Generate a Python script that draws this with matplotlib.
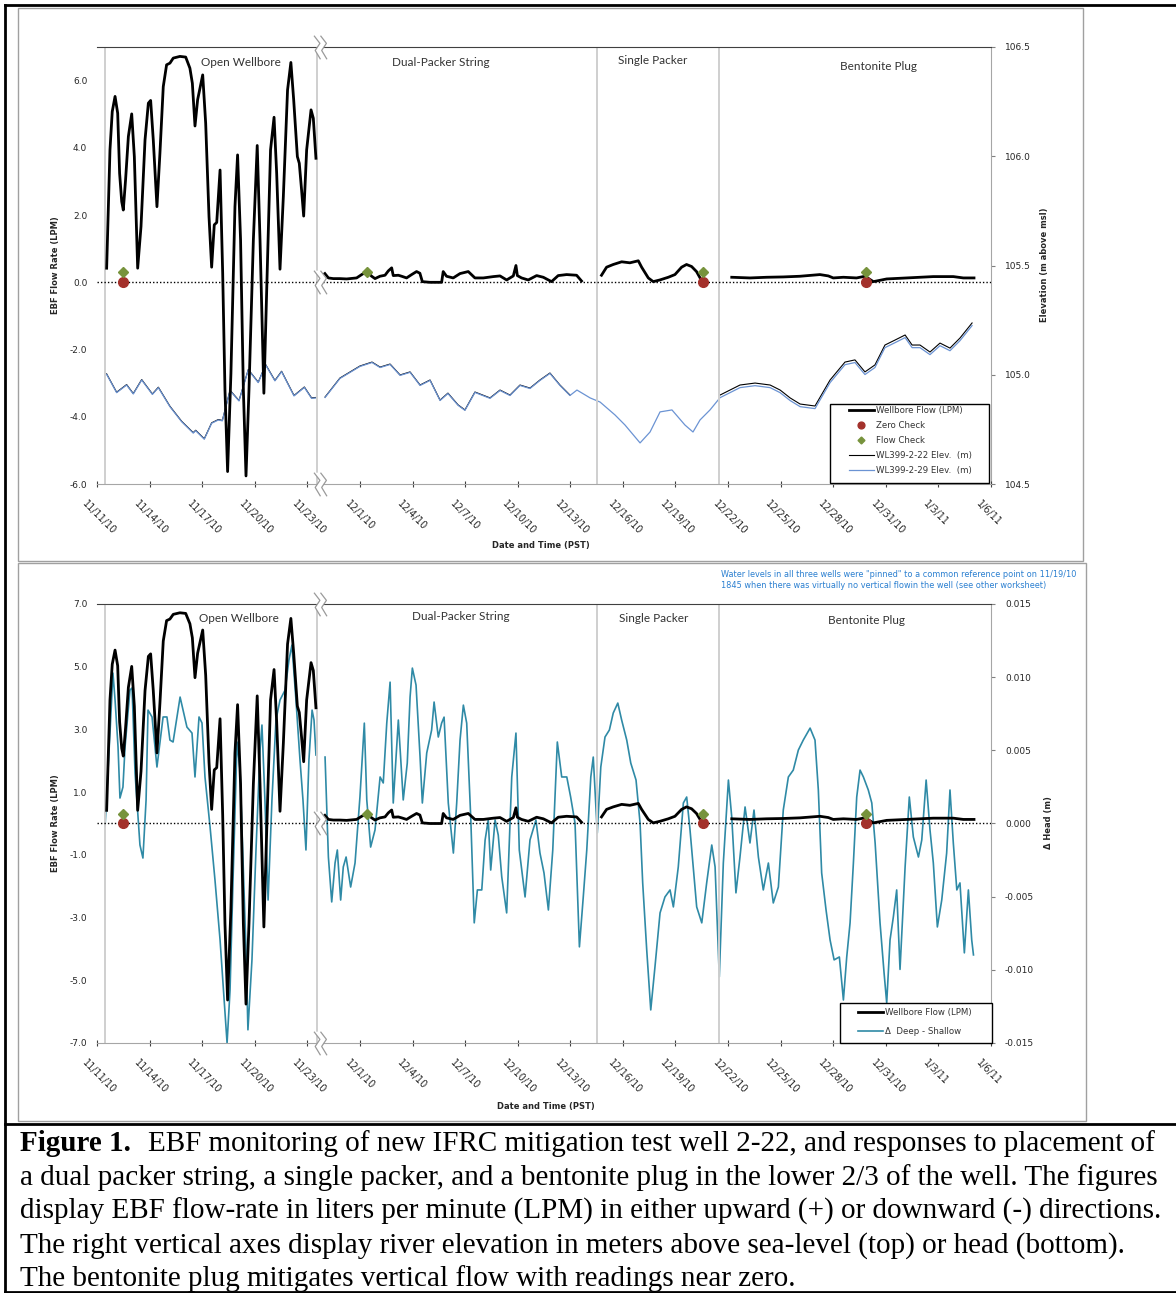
import numpy as np
import matplotlib
matplotlib.use("Agg")
import matplotlib.pyplot as plt
from matplotlib.patches import Rectangle
from matplotlib.path import Path
from matplotlib.ticker import FixedLocator, FormatStrFormatter
from matplotlib.transforms import ScaledTranslation

# ---------------- data (time = day number counted from Oct 31, 2010) ----------------
tick_days = [11, 14, 17, 20, 23, 31, 34, 37, 40, 43, 46, 49, 52, 55, 58, 61, 64, 67]
tick_labels = ["11/11/10", "11/14/10", "11/17/10", "11/20/10", "11/23/10", "12/1/10",
               "12/4/10", "12/7/10", "12/10/10", "12/13/10", "12/16/10", "12/19/10",
               "12/22/10", "12/25/10", "12/28/10", "12/31/10", "1/3/11", "1/6/11"]

phase_days = [11.46, 23.55, 44.52, 51.48]
phase_names = ["Open Wellbore", "Dual-Packer String", "Single Packer", "Bentonite Plug"]
break_day = 23.72

# wellbore flow (LPM), segments separated by nan
flow_days = [11.55, 11.74, 11.87, 12.03, 12.18, 12.29, 12.41, 12.50, 12.63, 12.79,
             12.98, 13.13, 13.32, 13.51, 13.74, 13.93, 14.06, 14.21, 14.42, 14.59,
             14.78, 14.97, 15.16, 15.35, 15.73, 16.06, 16.30, 16.44, 16.59, 16.74,
             17.03, 17.20, 17.39, 17.54, 17.69, 17.83, 18.02, 18.17, 18.30, 18.45,
             18.64, 18.87, 19.02, 19.19, 19.35, 19.50, 19.67, 19.92, 20.14, 20.30,
             20.52, 20.71, 20.90, 21.10, 21.25, 21.44, 21.63, 21.87, 22.06, 22.22,
             22.43, 22.54, 22.67, 22.79, 22.96, 23.21, 23.34, 23.49, np.nan,
             29.00, 29.20, 29.48, 29.86, 30.24, 30.81, 31.10, 31.38, 31.67, 31.86,
             32.14, 32.43, 32.62, 32.81, 32.90, 33.19, 33.38, 33.66, 33.95, 34.23,
             34.42, 34.56, 34.99, 35.66, 35.75, 35.94, 36.32, 36.71, 37.18, 37.56,
             38.04, 38.61, 38.99, 39.37, 39.75, 39.90, 39.98, 40.22, 40.60, 41.08,
             41.46, 41.93, 42.31, 42.79, 43.36, 43.64, np.nan,
             44.78, 45.07, 45.45, 45.93, 46.40, 46.88, 47.07, 47.45, 47.73, 48.11,
             48.59, 48.97, 49.35, 49.63, 49.92, 50.20, 50.49, np.nan,
             52.21, 53.25, 54.20, 55.15, 56.10, 57.24, 57.72, 58.00, 58.58, 59.33,
             59.81, 60.29, 61.05, 62.19, 63.71, 64.85, 65.42, 66.03]
flow_lpm = [0.42, 3.94, 5.08, 5.53, 5.03, 3.24, 2.40, 2.15, 3.05, 4.34,
            5.01, 3.74, 0.42, 1.66, 4.24, 5.33, 5.41, 4.24, 2.25, 3.84,
            5.82, 6.47, 6.52, 6.67, 6.72, 6.70, 6.37, 5.92, 4.65, 5.43,
            6.17, 4.73, 1.95, 0.45, 1.71, 1.78, 3.34, 0.27, -3.20, -5.63,
            -2.71, 2.25, 3.79, 1.26, -3.20, -5.76, -3.20, 1.26, 4.07, 1.26,
            -3.30, 0.27, 3.94, 4.91, 3.24, 0.39, 2.55, 5.72, 6.54, 5.43,
            3.74, 3.54, 2.75, 1.97, 3.94, 5.13, 4.88, 3.69, np.nan,
            0.26, 0.13, 0.11, 0.11, 0.10, 0.13, 0.23, 0.32, 0.18, 0.11,
            0.18, 0.21, 0.34, 0.43, 0.20, 0.21, 0.18, 0.13, 0.23, 0.32,
            0.27, 0.02, 0.00, 0.00, 0.32, 0.18, 0.13, 0.26, 0.32, 0.13,
            0.13, 0.17, 0.19, 0.07, 0.19, 0.50, 0.20, 0.13, 0.07, 0.20,
            0.15, 0.02, 0.20, 0.23, 0.21, 0.04, np.nan,
            0.21, 0.45, 0.53, 0.61, 0.58, 0.64, 0.45, 0.13, 0.02, 0.07,
            0.15, 0.23, 0.45, 0.53, 0.47, 0.32, 0.05, np.nan,
            0.15, 0.13, 0.15, 0.16, 0.18, 0.23, 0.19, 0.13, 0.15, 0.13,
            0.18, 0.02, 0.10, 0.13, 0.17, 0.17, 0.13, 0.13]

zero_check_days = [12.48, 50.57, 59.87]
zero_check_lpm = [0.0, 0.0, 0.0]
flow_check_days = [12.48, 31.40, 50.57, 59.87]
flow_check_lpm = [0.3, 0.3, 0.3, 0.3]

# river elevation (m above msl)
elev_days = [11.55, 12.12, 12.69, 13.07, 13.55, 14.16, 14.50, 15.16, 15.83, 16.49,
             16.63, 17.12, 17.54, 17.92, 18.15, 18.59, 19.10, 19.63, 20.20, 20.62,
             21.15, 21.53, 22.24, 22.83, 23.24, 23.49, np.nan,
             29.01, 29.86, 31.00, 31.69, 32.15, 32.72, 33.29, 33.86, 34.43, 35.00,
             35.57, 36.02, 36.60, 36.99, 37.56, 38.42, 38.99, 39.56, 40.13, 40.70,
             41.27, 41.84, 42.41, 42.98, 43.38, 44.13, 44.70, 45.55, 46.12, 46.98,
             47.55, 48.12, 48.80, 49.54, 50.00, 50.40, 50.97, 51.54, 52.11, 52.68,
             53.54, 54.40, 54.97, 55.54, 56.11, 56.96, 57.82, 58.67, 59.24, 59.81,
             60.38, 60.95, 61.53, 62.10, 62.50, 62.95, 63.52, 64.09, 64.66, 65.23,
             65.92]
elev_2_22 = [105.004, 104.920, 104.955, 104.914, 104.978, 104.912, 104.943, 104.856, 104.787, 104.735,
             104.746, 104.707, 104.780, 104.795, 104.791, 104.929, 104.882, 105.024, 104.966, 105.047,
             104.974, 105.016, 104.905, 104.944, 104.894, 104.896, np.nan,
             104.898, 104.985, 105.040, 105.058, 105.035, 105.049, 104.999, 105.013, 104.953, 104.976,
             104.884, 104.916, 104.862, 104.839, 104.921, 104.894, 104.930, 104.907, 104.953, 104.939,
             104.976, 105.008, 104.953, 104.907, np.nan, np.nan, np.nan, np.nan, np.nan, np.nan,
             np.nan, np.nan, np.nan, np.nan, np.nan, np.nan, np.nan, 104.907, 104.930, 104.953,
             104.962, 104.953, 104.930, 104.894, 104.866, 104.857, 104.976, 105.058, 105.068, 105.013,
             105.045, 105.136, 105.159, 105.182, 105.136, 105.136, 105.104, 105.145, 105.122, 105.168,
             105.237]
elev_2_29 = [105.002, 104.918, 104.953, 104.912, 104.976, 104.910, 104.941, 104.854, 104.785, 104.733,
             104.744, 104.705, 104.778, 104.793, 104.789, 104.927, 104.880, 105.022, 104.964, 105.045,
             104.972, 105.014, 104.903, 104.942, 104.892, 104.894, np.nan,
             104.896, 104.983, 105.038, 105.056, 105.033, 105.047, 104.997, 105.011, 104.951, 104.974,
             104.882, 104.914, 104.860, 104.837, 104.919, 104.892, 104.928, 104.905, 104.951, 104.937,
             104.974, 105.006, 104.951, 104.905, 104.930, 104.894, 104.875, 104.816, 104.770, 104.688,
             104.738, 104.830, 104.839, 104.770, 104.738, 104.793, 104.839, 104.895, 104.918, 104.941,
             104.950, 104.941, 104.918, 104.882, 104.854, 104.845, 104.964, 105.046, 105.056, 105.001,
             105.033, 105.124, 105.147, 105.170, 105.124, 105.124, 105.092, 105.133, 105.110, 105.156,
             105.225]

# head difference deep - shallow (m)
dh_days = [11.46, 11.74, 11.91, 12.03, 12.20, 12.31, 12.48, 12.60, 12.88, 13.00,
           13.17, 13.45, 13.62, 13.80, 13.91, 14.14, 14.42, 14.77, 14.99, 15.16,
           15.34, 15.74, 16.13, 16.42, 16.59, 16.82, 16.99, 17.16, 17.45, 17.73,
           18.02, 18.25, 18.42, 18.59, 18.76, 18.99, 19.16, 19.33, 19.50, 19.61,
           19.84, 20.07, 20.30, 20.41, 20.58, 20.76, 20.98, 21.21, 21.44, 21.73,
           21.95, 22.12, 22.35, 22.58, 22.75, 22.92, 23.09, 23.27, 23.38, 23.49, np.nan,
           29.01, 29.20, 29.39, 29.58, 29.71, 29.90, 30.05, 30.21, 30.47, 30.72,
           31.00, 31.25, 31.39, 31.61, 31.86, 32.15, 32.33, 32.53, 32.72, 32.90,
           33.19, 33.47, 33.70, 33.86, 33.99, 34.20, 34.43, 34.56, 34.81, 35.09,
           35.23, 35.47, 35.66, 35.80, 36.04, 36.33, 36.52, 36.71, 36.90, 37.09,
           37.32, 37.52, 37.70, 37.95, 38.14, 38.32, 38.46, 38.71, 38.89, 39.09,
           39.37, 39.66, 39.90, 40.09, 40.42, 40.70, 41.04, 41.27, 41.50, 41.75,
           42.00, 42.26, 42.51, 42.80, 43.02, 43.27, 43.52, 43.74, 43.94, 44.17,
           44.31, 44.54, 44.74, 44.98, 45.23, 45.45, 45.71, 45.93, 46.22, 46.45,
           46.75, 46.98, 47.13, 47.36, 47.59, 47.83, 48.12, 48.40, 48.69, 48.88,
           49.16, 49.45, 49.64, 49.83, 50.21, 50.50, 50.78, 51.07, 51.26, 51.50,
           51.73, 52.02, 52.21, 52.45, 52.68, 52.97, 53.25, 53.48, 53.73, 54.01,
           54.30, 54.58, 54.87, 55.15, 55.44, 55.72, 56.01, 56.29, 56.68, 56.96,
           57.15, 57.34, 57.59, 57.82, 58.05, 58.35, 58.58, 58.77, 58.96, 59.15,
           59.34, 59.53, 59.72, 60.00, 60.20, 60.39, 60.67, 60.90, 61.05, 61.24,
           61.43, 61.62, 61.81, 62.10, 62.34, 62.57, 62.86, 63.05, 63.30, 63.52,
           63.71, 63.94, 64.19, 64.47, 64.66, 64.85, 65.05, 65.23, 65.48, 65.71,
           65.90, 66.00]
dh_m = [-0.00017, 0.00618, 0.01028, 0.00844, 0.00523, 0.00174, 0.00249, 0.00523, 0.00912, 0.00926,
        0.00345, -0.00147, -0.00236, 0.00161, 0.00775, 0.00728, 0.00386, 0.00728, 0.00728, 0.00570,
        0.00557, 0.00864, 0.00659, 0.00618, 0.00318, 0.00728, 0.00687, 0.00318, -0.00024, -0.00386,
        -0.00796, -0.01206, -0.01500, -0.01138, -0.00386, 0.00557, 0.00365, -0.00249, -0.00864, -0.01410,
        -0.00932, -0.00181, 0.00502, 0.00673, 0.00161, -0.00523, 0.00161, 0.00707, 0.00844, 0.00912,
        0.01117, 0.01219, 0.00844, 0.00434, 0.00161, -0.00181, 0.00434, 0.00775, 0.00707, 0.00468, np.nan,
        0.00454, -0.00229, -0.00536, -0.00270, -0.00181, -0.00523, -0.00297, -0.00229, -0.00434, -0.00270,
        0.00181, 0.00686, 0.00161, -0.00161, -0.00044, 0.00318, 0.00277, 0.00686, 0.00966, 0.00140,
        0.00707, 0.00161, 0.00413, 0.00864, 0.01062, 0.00946, 0.00454, 0.00140, 0.00482, 0.00639,
        0.00830, 0.00591, 0.00686, 0.00727, 0.00140, -0.00202, 0.00140, 0.00570, 0.00809, 0.00686,
        0.00044, -0.00679, -0.00454, -0.00454, -0.00113, 0.00024, -0.00318, 0.00024, -0.00079, -0.00365,
        -0.00611, 0.00318, 0.00618, -0.00181, -0.00502, -0.00113, 0.00024, -0.00202, -0.00338, -0.00591,
        -0.00181, 0.00557, 0.00318, 0.00318, 0.00181, 0.00003, -0.00843, -0.00502, -0.00181, 0.00318,
        0.00454, -0.00065, 0.00386, 0.00591, 0.00639, 0.00755, 0.00823, 0.00707, 0.00570, 0.00413,
        0.00297, 0.00003, -0.00406, -0.00864, -0.01274, -0.00980, -0.00611, -0.00502, -0.00454, -0.00570,
        -0.00297, 0.00140, 0.00181, -0.00044, -0.00570, -0.00679, -0.00406, -0.00147, -0.00297, -0.01048,
        -0.00270, 0.00297, 0.00044, -0.00474, -0.00229, 0.00113, -0.00133, 0.00092, -0.00229, -0.00454,
        -0.00270, -0.00543, -0.00434, 0.00092, 0.00318, 0.00365, 0.00502, 0.00570, 0.00652, 0.00570,
        0.00229, -0.00338, -0.00591, -0.00796, -0.00932, -0.00912, -0.01206, -0.00912, -0.00679, -0.00270,
        0.00181, 0.00365, 0.00318, 0.00229, 0.00140, -0.00133, -0.00679, -0.01021, -0.01226, -0.00796,
        -0.00638, -0.00454, -0.00997, -0.00297, 0.00181, -0.00092, -0.00229, -0.00113, 0.00297, -0.00044,
        -0.00270, -0.00707, -0.00523, -0.00202, 0.00229, -0.00133, -0.00454, -0.00406, -0.00884, -0.00454,
        -0.00796, -0.00898]

note_lines = ["Water levels in all three wells were \"pinned\" to a common reference point on 11/19/10",
              "1845 when there was virtually no vertical flowin the well (see other worksheet)"]

caption_first = "EBF monitoring of new IFRC mitigation test well 2-22, and responses to placement of"
caption_lines = [
    "a dual packer string, a single packer, and a bentonite plug in the lower 2/3 of the well. The figures",
    "display EBF flow-rate in liters per minute (LPM) in either upward (+) or downward (-) directions.",
    "The right vertical axes display river elevation in meters above sea-level (top) or head (bottom).",
    "The bentonite plug mitigates vertical flow with readings near zero.",
]

# ---------------- layout helpers ----------------
W, H = 1176, 1293
fig = plt.figure(figsize=(W / 100, H / 100), dpi=100)
fig.patch.set_facecolor("white")

TXT = "#262626"
GRID = "#a6a6a6"
TEAL = "#2f8aa6"
LBLUE = "#6b93d3"


def fx(px):
    return px / W


def fy(py):
    return 1 - py / H


def to_axis(days):
    # the x axis skips Nov 24 - Nov 28
    d = np.asarray(days, dtype=float)
    return np.where(d < 26, d - 11, d - 16)


def frame(x0, y0, x1, y1, color, lw, fill=False, z=1):
    fig.add_artist(Rectangle((fx(x0), fy(y1)), fx(x1) - fx(x0), fy(y0) - fy(y1),
                             transform=fig.transFigure, fill=fill, fc="white", ec=color,
                             lw=lw, zorder=z))


# zig-zag break symbol
zig = [(-0.55, 1.0), (-0.05, 0.35), (-0.45, -0.25), (0.0, -1.0)]
zag = [(x + 0.55, y) for x, y in zig]
break_mark = Path(zig + zag, [Path.MOVETO] + [Path.LINETO] * 3 + [Path.MOVETO] + [Path.LINETO] * 3)
break_fill = Path(zig + zag[::-1] + [zig[0]], [Path.MOVETO] + [Path.LINETO] * 7 + [Path.CLOSEPOLY])


def make_panel(top, bottom, ylim, yticks, y2lim, y2ticks, y2fmt):
    ax = fig.add_axes([fx(97), fy(bottom), fx(991) - fx(97), (bottom - top) / H])
    ax2 = ax.twinx()
    ax.set_zorder(ax2.get_zorder() + 1)
    ax.patch.set_visible(False)

    ax.set_xlim(0, 51)
    ax.set_ylim(*ylim)
    ax2.set_ylim(*y2lim)

    for a in (ax, ax2):
        for s in a.spines.values():
            s.set_visible(False)
    ax.spines["top"].set_visible(True)
    ax.spines["top"].set_color("#404040")
    ax.spines["bottom"].set_visible(True)
    ax.spines["bottom"].set_color(GRID)
    ax2.spines["right"].set_visible(True)
    ax2.spines["right"].set_color(GRID)

    ax.yaxis.set_major_locator(FixedLocator(yticks))
    ax.yaxis.set_major_formatter(FormatStrFormatter("%.1f"))
    ax.tick_params(axis="y", length=0, pad=7, labelsize=6.5, labelcolor=TXT)
    ax2.yaxis.set_major_locator(FixedLocator(y2ticks))
    ax2.yaxis.set_major_formatter(FormatStrFormatter(y2fmt))
    ax2.tick_params(axis="y", direction="out", length=3, color="#808080", pad=7,
                    labelsize=6.5, labelcolor=TXT)

    ax.set_xticks(to_axis(tick_days))
    ax.set_xticklabels(tick_labels, rotation=-45, ha="left", va="top",
                       rotation_mode="anchor", fontsize=7, color=TXT)
    ax.tick_params(axis="x", direction="inout", length=5, width=0.8, color="#404040", pad=8)
    shift = ScaledTranslation(-10 / 100, 0, fig.dpi_scale_trans)
    for lab in ax.get_xticklabels():
        lab.set_transform(lab.get_transform() + shift)

    # phase boundaries and zero line
    for d in phase_days:
        ax.axvline(to_axis([d])[0], color="#cfcfcf", lw=1.4, zorder=0)
    ax.axhline(0, color="black", lw=1.0, ls=(0, (1, 1.5)), zorder=1)

    # axis breaks
    bx = to_axis([break_day])[0]
    for yy, tr in ((1, ax.get_xaxis_transform()), (0, ax.get_xaxis_transform()), (0, ax.transData)):
        ax.plot([bx], [yy], transform=tr, marker=break_fill, ms=17, mfc="white", mec="none",
                ls="none", zorder=6, clip_on=False)
        ax.plot([bx], [yy], transform=tr, marker=break_mark, ms=17, mfc="none", mec="#9a9a9a",
                mew=0.9, ls="none", zorder=7, clip_on=False)
    return ax, ax2


def add_flow(ax):
    fl, = ax.plot(to_axis(flow_days), flow_lpm, color="black", lw=2.0, zorder=4,
                  solid_joinstyle="round", label="Wellbore Flow (LPM)")
    zc, = ax.plot(to_axis(zero_check_days), zero_check_lpm, ls="none", marker="o", ms=7,
                  color="#a3312b", zorder=5, label="Zero Check")
    fc, = ax.plot(to_axis(flow_check_days), flow_check_lpm, ls="none", marker="D", ms=5,
                  color="#77933c", zorder=5, label="Flow Check")
    return fl, zc, fc


def boxed_legend(handles, box, first_row, spacing, hstart):
    x0, y0, x1, y1 = box
    frame(x0, y0, x1, y1, "black", 1.0, fill=True, z=4.5)
    leg = fig.legend(handles=handles, loc="upper left",
                     bbox_to_anchor=(fx(hstart), fy(first_row)), bbox_transform=fig.transFigure,
                     frameon=False, borderpad=0, borderaxespad=0, fontsize=6.2,
                     handlelength=2.9, handletextpad=0.2, labelspacing=spacing, markerscale=0.7)
    leg.set_zorder(5)
    for t in leg.get_texts():
        t.set_color("#333333")
    return leg


def phase_labels(xs, ys):
    for name, x, y in zip(phase_names, xs, ys):
        fig.text(fx(x), fy(y), name, ha="center", va="center", fontsize=8.5,
                 family="Lato", color="#333333")


def axis_titles(ly, ry, right_title, bx, by):
    fig.text(fx(55), fy(ly), "EBF Flow Rate (LPM)", rotation=90, ha="center", va="center",
             fontsize=6, weight="bold", color=TXT)
    fig.text(fx(ry), fy(ly), right_title, rotation=90, ha="center", va="center",
             fontsize=6, weight="bold", color=TXT)
    fig.text(fx(bx), fy(by), "Date and Time (PST)", ha="center", va="center",
             fontsize=6, weight="bold", color=TXT)


# ---------------- frames ----------------
frame(18, 8, 1083, 561, "#a0a0a0", 1.0)
frame(18, 563, 1086, 1121, "#a0a0a0", 1.0)
for xs_, ys_ in (([5, 1180], [5, 5]), ([5, 5], [5, 1292]), ([5, 1180], [1292, 1292]),
                 ([5, 1180], [1124, 1124])):
    fig.add_artist(plt.Line2D([fx(v) for v in xs_], [fy(v) for v in ys_],
                              transform=fig.transFigure, color="black", lw=2.0))

# ---------------- top panel ----------------
ax, ax2 = make_panel(47, 484, (-6, 7), [-6, -4, -2, 0, 2, 4, 6],
                     (104.5, 106.5), [104.5, 105.0, 105.5, 106.0, 106.5], "%.1f")
e22, = ax2.plot(to_axis(elev_days), elev_2_22, color="black", lw=0.8,
                label="WL399-2-22 Elev.  (m)")
e29, = ax2.plot(to_axis(elev_days), elev_2_29, color=LBLUE, lw=0.9,
                label="WL399-2-29 Elev.  (m)")
fl, zc, fc = add_flow(ax)
boxed_legend([fl, zc, fc, e22, e29], (830, 404, 989, 483), 406.5, 0.68, 849)
phase_labels([241, 441, 653, 878], [62, 62, 61, 66])
axis_titles(265, 1045, "Elevation (m above msl)", 541, 546)

# ---------------- bottom panel ----------------
bx_, bx2 = make_panel(604, 1043, (-7, 7), [-7, -5, -3, -1, 1, 3, 5, 7],
                      (-0.015, 0.015), [-0.015, -0.01, -0.005, 0.0, 0.005, 0.01, 0.015], "%.3f")
dh, = bx2.plot(to_axis(dh_days), dh_m, color=TEAL, lw=1.2, label="\u0394  Deep - Shallow")
fl2, _, _ = add_flow(bx_)
boxed_legend([fl2, dh], (840, 1003, 992, 1043), 1008, 1.2, 858)
phase_labels([239, 461, 654, 866], [619, 617, 619, 621])
axis_titles(823, 1048, "\u0394 Head (m)", 546, 1107)

for i, line in enumerate(note_lines):
    fig.text(fx(721), fy(575 + 10 * i), line, ha="left", va="center", fontsize=5.9,
             family=["Liberation Sans Narrow", "DejaVu Sans"], color="#2a7fd0")

# ---------------- caption ----------------
serif = "Liberation Serif"
fig.text(fx(20), fy(1151), "Figure 1.", ha="left", va="baseline", fontsize=21,
         family=serif, weight="bold")
fig.text(fx(148), fy(1151), caption_first, ha="left", va="baseline", fontsize=21, family=serif)
for i, line in enumerate(caption_lines):
    fig.text(fx(20), fy(1185 + 33.7 * i), line, ha="left", va="baseline", fontsize=21, family=serif)

fig.savefig("out.png", dpi=100)
